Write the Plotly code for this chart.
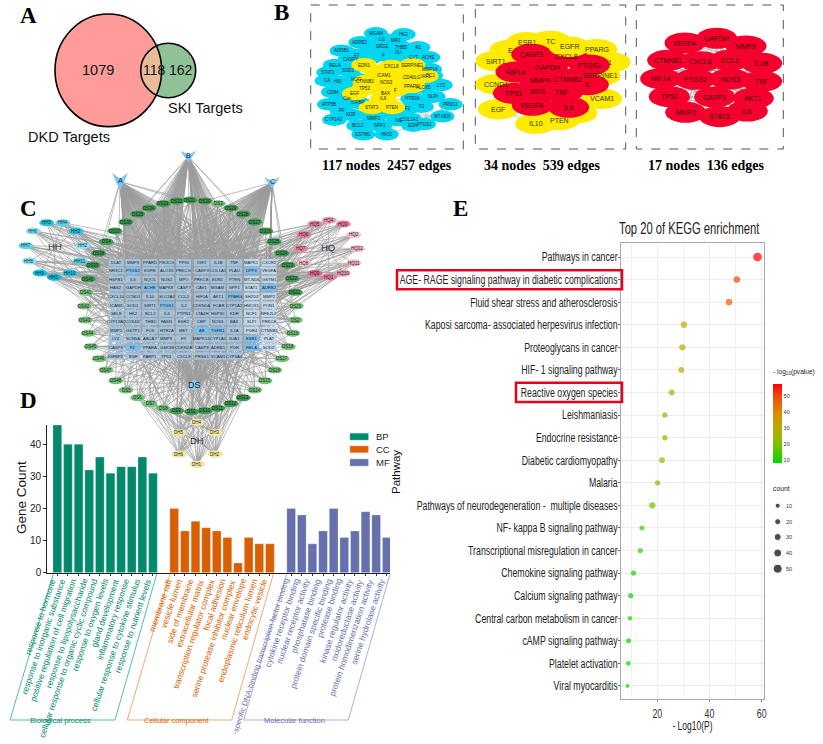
import math
import plotly.graph_objects as go

W, H = 823, 744
SANS = "Liberation Sans, Arial, sans-serif"
SERIF = "Liberation Serif, Times New Roman, serif"

# ---------- D: GO bars ----------
bp_terms = ["response to hormone", "response to inorganic substance", "positive regulation of cell migration",
            "response to lipopolysaccharide", "cellular response to organic cyclic compound",
            "response to oxygen levels", "gland development", "inflammatory response",
            "cellular response to cytokine stimulus", "response to nutrient levels"]
bp_counts = [46, 40, 40, 32, 36, 31, 33, 33, 36, 31]
cc_terms = ["membrane raft", "vesicle lumen", "side of membrane", "extracellular matrix",
            "transcription regulator complex", "focal adhesion", "serine protease inhibitor complex",
            "nuclear envelope", "endoplasmic reticulum lumen", "endocytic vesicle"]
cc_counts = [20, 13, 16, 14, 13, 11, 3, 11, 9, 9]
mf_terms = ["-specific DNA-binding transcription factor binding", "cytokine receptor binding",
            "nuclear receptor activity", "phosphatase binding", "protein domain specific binding",
            "protease binding", "kinase regulator activity", "oxidoreductase activity",
            "protein homodimerization activity", "serine hydrolase activity"]
mf_counts = [20, 18, 9, 13, 20, 11, 13, 19, 18, 11]
bp_slots = list(range(0, 10))
cc_slots = list(range(11, 21))
mf_slots = list(range(22, 32))
go_colors = {"BP": "#00896B", "CC": "#D95F02", "MF": "#6670AD"}
go_edge = {"BP": "#55C0A8", "CC": "#F5A77C", "MF": "#AEB0D8"}

# ---------- E: KEGG dots ----------
kegg_terms = ["Pathways in cancer", "AGE- RAGE signaling pathway in diabetic complications",
              "Fluid shear stress and atherosclerosis", "Kaposi sarcoma- associated herpesvirus infection",
              "Proteoglycans in cancer", "HIF- 1 signaling pathway", "Reactive oxygen species",
              "Leishmaniasis", "Endocrine resistance", "Diabetic cardiomyopathy", "Malaria",
              "Pathways of neurodegeneration -  multiple diseases", "NF- kappa B signaling pathway",
              "Transcriptional misregulation in cancer", "Chemokine signaling pathway",
              "Calcium signaling pathway", "Central carbon metabolism in cancer", "cAMP signaling pathway",
              "Platelet activation", "Viral myocarditis"]
kegg_logp = [58.4, 50.5, 47.5, 30.2, 29.6, 29.2, 25.5, 22.9, 22.9, 21.8, 20.1, 18.1, 14.1, 13.5, 10.9, 9.8, 9.5, 9.0, 8.9, 8.6]
kegg_count = [48, 27, 27, 24, 24, 21, 21, 16, 16, 18, 14, 24, 11, 13, 13, 13, 6, 11, 9, 2]
color_stops = [[0, "#00D800"], [0.24, "#7FC000"], [0.44, "#B8AC00"], [0.64, "#DC8C00"], [0.84, "#F04A0C"], [1, "#FF0000"]]
legend_counts = [10, 20, 30, 40, 50]

# ---------- C: compound-target network ----------
grid_genes = [
    ["DLAT", "MMP3", "PPARD", "PIK3CG", "PPIG", "IGF2", "IL1B", "TNF", "MAPK1", "CXCR2"],
    ["NR3C1", "PTGS2", "EGFR", "ALOX5", "PRKCG", "CASP3", "COL1A1", "PLAU", "DPP4", "VEGFA"],
    ["HSPB1", "IL6", "NQO1", "NOS2", "MPO", "PRKCB", "EDN1", "PTEN", "MT-ND6", "GSTM1"],
    ["HAS2", "GAPDH", "ACHE", "MAPK8", "CASP7", "CAV1", "MGAM", "SPP1", "STAT1", "ADRB2"],
    ["CXCL10", "CCND1", "IL10", "SLC2A4", "CCL2", "HIF1A", "AKT1", "PPARG", "SH2D2", "MMP2"],
    ["ICAM1", "SOD1", "SIRT1", "PTGS1", "IL2", "CDKN1A", "FCAR", "CYP1A2", "HMOX1", "PON1"],
    ["SELE", "HK2", "BCL2", "IL4", "PTPN1", "LTA4H", "HSP90", "KDR", "NCF1", "NFE2L2"],
    ["CYP19A1", "COX4I2", "THBD", "FASN", "ESR2", "CRP", "NOS3", "BAX", "SLPI", "PRKCE"],
    ["MMP1", "GSTP1", "FOS", "HTR2A", "MET", "AR", "TGFB1", "IL1A", "PGR4", "CTNNB1"],
    ["LYZ", "SCN5A", "ABCA7", "MMP9", "F3", "MAPK14", "CYP1A1", "GJA1", "ESR1", "PLAT"],
    ["CASP9", "F2", "PPARA", "GSK3B", "CDKN2A", "CASP8", "ADRB1", "PGR", "RELA", "SOD2"],
    ["IGFBP3", "EGF", "PARP1", "TP53", "CXCL8", "PRSS1", "VCAM1", "CYP3A4"],
]
bright_genes = ["PTGS2", "ACHE", "PTGS1", "F2", "AR", "DPP4", "ADRB2", "PPARG", "ESR1", "RELA", "TGFB1"]
grid_col_x = [116, 133, 150, 166.7, 183.5, 201.7, 218, 234.5, 251.7, 269]
grid_row_y = [262.7, 270.7, 279.3, 287.7, 296.3, 305, 313.3, 321.7, 330.3, 338.7, 347.3, 356]

ds_ring = [("DS31", 190, 200), ("DS30", 205, 201), ("DS3", 218.3, 203.7), ("DS29", 231, 208), ("DS28", 243.3, 214),
           ("DS27", 255, 222), ("DS26", 265.7, 231), ("DS25", 274, 241.7), ("DS24", 281.7, 253.3), ("DS23", 287.7, 265.3),
           ("DS22", 292.3, 278.7), ("DS21", 295.3, 292.3), ("DS20", 296.3, 306), ("DS2", 295.3, 320), ("DS19", 292.7, 333.3),
           ("DS18", 288.3, 346.7), ("DS17", 282, 358.7), ("DS16", 274.7, 370), ("DS15", 265, 380.7), ("DS14", 254.7, 390),
           ("DS13", 243.3, 397.7), ("DS12", 231, 403.7), ("DS11", 217.7, 408.3), ("DS10", 204.7, 410.7), ("DS1", 191.7, 411.7),
           ("DS9", 176.7, 410.7), ("DS8", 163, 408.3), ("DS7", 150, 403.7), ("DS6", 137.7, 397.7), ("DS5", 126, 390),
           ("DS48", 115.7, 380.7), ("DS47", 106, 370), ("DS46", 99.3, 358.7), ("DS45", 91, 346.7), ("DS44", 88.3, 333.3),
           ("DS43", 85.3, 320), ("DS42", 84.3, 306), ("DS41", 85.7, 292.3), ("DS40", 88.3, 279), ("DS39", 93, 265.3),
           ("DS38", 98.7, 253.3), ("DS4", 106.3, 241.7), ("DS37", 115, 231), ("DS36", 126, 222), ("DS35", 137.7, 214),
           ("DS34", 149.3, 208), ("DS33", 163.3, 203.7), ("DS32", 176.7, 201)]
ds_dark = ["DS31", "DS32", "DS33", "DS34", "DS35", "DS36", "DS37", "DS38", "DS39", "DS40", "DS4", "DS30", "DS29", "DS28", "DS27",
           "DS26", "DS25", "DS24", "DS23", "DS22", "DS21", "DS13", "DS12", "DS11", "DS10", "DS1", "DS9"]
hh_nodes = [("HH5", 46.7, 222.7, "#22C4E4"), ("HH4", 62.7, 222.7, "#5CD4EC"), ("HH6", 33.3, 231, "#8CE0F2"), ("HH3", 76, 231, "#22C4E4"),
            ("HH7", 26, 245.7, "#60D6EE"), ("HH2", 82.7, 245.7, "#8CE0F2"), ("HH8", 29.3, 261, "#8CE0F2"), ("HH11", 80, 261, "#5CD4EC"),
            ("HH9", 40, 273, "#0CC4EC"), ("HH10", 70, 273, "#22C4E4"), ("HH1", 54.3, 277.3, "#14B8DC")]
hq_nodes = [("HQ4", 329.3, 220.3, "#F09CB4"), ("HQ5", 315, 224, "#EC84A0"), ("HQ3", 343.3, 224, "#EC7C9C"), ("HQ6", 304, 234.7, "#E87898"),
            ("HQ2", 353.7, 234.7, "#F6C0CE"), ("HQ7", 301, 248.7, "#EC84A0"), ("HQ12", 357.3, 248.7, "#F4B4C6"), ("HQ8", 304.3, 263, "#F6C0CE"),
            ("HQ11", 353.7, 263, "#F4B4C6"), ("HQ9", 315, 273.3, "#E8688C"), ("HQ10", 343.3, 273.3, "#F09CB4"), ("HQ1", 329.3, 277, "#EC7C9C")]
dh_nodes = [("DH4", 197.3, 422.3), ("DH5", 179, 432.7), ("DH3", 215.3, 432.7), ("DH6", 179, 454), ("DH2", 215.3, 454), ("DH1", 197.3, 464.3)]
hub_nodes = [("A", 120, 181.7, 16, 18), ("B", 188.3, 156.7, 16, 12), ("C", 272, 182.7, 16, 11)]

# ---------- B: PPI panels ----------
net1_cyan = [("MGAM", 213, 100), ("HK2", 296, 103), ("ADRB2", 166, 127), ("LG", 232, 118), ("MRJ", 270, 120), ("DRD2", 233, 140), ("THBD", 290, 142),
             ("4I1", 340, 142), ("ADRB1", 110, 152), ("F7", 155, 165), ("F", 235, 165), ("XLI", 280, 158), ("CYT", 325, 172), ("ACHE", 370, 172),
             ("CASP7", 135, 178), ("RELA", 90, 195), ("STAT1", 70, 217), ("SOD1", 130, 212), ("MMP14", 375, 208), ("CA", 65, 242), ("HSI", 100, 245),
             ("NQO", 155, 237), ("DC1", 378, 227), ("LYZ", 407, 255), ("ALOX5", 355, 263), ("CD84", 84, 276), ("Cas", 126, 296), ("HTR3A", 322, 296),
             ("SLPI", 385, 290), ("PRSS1", 437, 313), ("ATP5B", 72, 313), ("IGFBP", 160, 308), ("PF", 110, 332), ("KDR", 137, 344), ("F2", 310, 325),
             ("F2", 350, 320), ("MT-ND6", 412, 349), ("CYP1A2", 88, 359), ("MMP3", 205, 355), ("IVE", 280, 360), ("COL1A1", 315, 357), ("PTGS1", 357, 372),
             ("EDN", 325, 377), ("BCL2", 160, 377), ("SPP1", 225, 377), ("GSTM1", 175, 403), ("HK52", 245, 403), ("BAX", 240, 280),
             ("", 195, 175), ("", 290, 185), ("", 130, 262), ("", 195, 345), ("", 260, 340), ("", 110, 300), ("", 255, 130), ("", 200, 150), ("", 350, 240)]
net1_yellow = [("EDN1", 178, 195), ("CXCL8", 260, 200), ("SERPINE1", 322, 195), ("", 215, 215), ("", 285, 225), ("ICAM1", 238, 225), ("CD40LG", 320, 232),
               ("IAF1", 362, 228), ("CTNNB1", 182, 245), ("NOS3", 245, 247), ("", 280, 250), ("PPARG", 322, 258), ("TP53", 178, 265), ("", 220, 265),
               ("F", 270, 270), ("EGF", 150, 281), ("IL6", 235, 296), ("STAT3", 200, 322), ("PTEN", 262, 322)]
net2_yellow = [("ESR1", 170, 127), ("TC", 240, 123), ("E", 120, 150), ("PPARG", 380, 148), ("SIRT1", 78, 183), ("1", 420, 187),
               ("SERPINE1", 390, 227), ("CCND1", 78, 253), ("VCAM1", 395, 296), ("EGF", 85, 328), ("", 320, 340), ("PTEN", 268, 360), ("IL10", 197, 371)]
net2_red = [("IL", 355, 254), ("CASP3", 185, 163), ("CXCL8", 290, 168), ("GAPDH", 232, 202), ("HIF1A", 138, 216), ("MMP9", 210, 241), ("CTNNB1", 293, 238),
            ("TP53", 130, 280), ("NOS", 205, 274), ("TNF", 277, 277), ("VEGFA", 187, 316), ("IL6", 296, 322), ("PTGS2", 358, 195)]
net2_top = [("EGFR", 298, 140)]
net3_red = [("VEGFA", 435, 129), ("GAPDH", 530, 115), ("MMP9", 618, 138), ("CTNNB1", 383, 181), ("CXCL8", 481, 185), ("CCL2", 569, 181),
            ("IL1B", 665, 190), ("HIF1A", 362, 236), ("PTGS2", 465, 238), ("NOS3", 570, 237), ("TNF", 665, 244), ("TP53", 388, 290),
            ("CASP3", 524, 291), ("AKT1", 640, 295), ("MMP2", 437, 337), ("STAT3", 539, 350), ("IL6", 622, 333)]
net_captions = ["117 nodes  2457 edges", "34 nodes  539 edges", "17 nodes  136 edges"]

shapes, annos = [], []


def dom_x(a, b):
    return [a / W, b / W]


def dom_y(top, bottom):
    return [1 - bottom / H, 1 - top / H]


def txt(x, y, s, size, color="#111", family=SANS, xa="center", ya="middle", angle=0, xref="x3", yref="y3", bold=False):
    if not s:
        return
    annos.append(dict(x=x, y=y, xref=xref, yref=yref, text=f"<b>{s}</b>" if bold else s, showarrow=False,
                      font=dict(size=size, color=color, family=family), xanchor=xa, yanchor=ya,
                      textangle=angle, borderpad=0, borderwidth=0))


def ellipse(x, y, w, h, fill, line="rgba(0,0,0,0)", lw=0):
    shapes.append(dict(type="circle", xref="x3", yref="y3", x0=x - w / 2, x1=x + w / 2, y0=y - h / 2, y1=y + h / 2,
                       fillcolor=fill, line=dict(color=line, width=lw), layer="above"))


def rect(x0, y0, x1, y1, fill="rgba(0,0,0,0)", line="rgba(0,0,0,0)", lw=0, dash="solid"):
    shapes.append(dict(type="rect", xref="x3", yref="y3", x0=x0, x1=x1, y0=y0, y1=y1, fillcolor=fill,
                       line=dict(color=line, width=lw, dash=dash), layer="above"))


def poly(pts, fill="rgba(0,0,0,0)", line="rgba(0,0,0,0)", lw=0):
    path = "M " + " L ".join(f"{a:.2f},{b:.2f}" for a, b in pts) + " Z"
    shapes.append(dict(type="path", xref="x3", yref="y3", path=path, fillcolor=fill, line=dict(color=line, width=lw), layer="above"))


fig = go.Figure()

# Bars
for key, slots, counts in (("BP", bp_slots, bp_counts), ("CC", cc_slots, cc_counts), ("MF", mf_slots, mf_counts)):
    fig.add_trace(go.Bar(x=slots, y=counts, width=0.82, marker=dict(color=go_colors[key], line=dict(color="rgba(255,255,255,.5)", width=0.5)),
                         xaxis="x", yaxis="y", showlegend=False))

# Dots
sizes = [3.9 + 0.1 * c for c in kegg_count]
fig.add_trace(go.Scatter(x=kegg_logp, y=kegg_terms, mode="markers", xaxis="x2", yaxis="y2", showlegend=False, marker=dict(
    size=sizes, color=kegg_logp, cmin=8, cmax=58, colorscale=color_stops, line=dict(width=0),
    colorbar=dict(x=773.3 / W, xanchor="left", xpad=0, ypad=0, y=1 - 423.3 / H, yanchor="middle", lenmode="pixels", len=78.7,
                  thicknessmode="pixels", thickness=9.4, outlinewidth=0, ticks="", tickvals=[10, 20, 30, 40, 50],
                  tickfont=dict(size=5.5, family=SANS, color="#333")))))

# Overlay: edges
ex, ey = [], []


def edge(p, q):
    ex.extend([p[0], q[0], None])
    ey.extend([p[1], q[1], None])


flat = []
for r, row in enumerate(grid_genes):
    for c, g in enumerate(row):
        flat.append((g, grid_col_x[c], grid_row_y[r]))
# The wiring of this dense network cannot be read from the picture; the pattern below only reproduces its look.
for k, (name, hx, hy, _, _) in enumerate(hub_nodes):
    for i, (_, gx, gy) in enumerate(flat):
        if (i + k) % 5 != 0:
            edge((hx, hy), (gx, gy))
    for j, (_, dx, dy) in enumerate(ds_ring):
        if (j + k) % 5 == 0:
            edge((hx, hy), (dx, dy))
for j, (_, dx, dy) in enumerate(ds_ring):
    edge((194, 385), (dx, dy))
    for s in (3, 17, 29, 41, 53, 71, 83, 97):
        _, gx, gy = flat[(j * s + s) % len(flat)]
        edge((dx, dy), (gx, gy))
for i, (_, gx, gy) in enumerate(flat):
    if i % 2 == 1:
        edge((194, 385), (gx, gy))
for n, x, y, _ in hh_nodes:
    edge((54.7, 246.3), (x, y))
    for i in range(0, 118, 13):
        edge((x, y), (flat[(i + int(x)) % 118][1], flat[(i + int(x)) % 118][2]))
for n, x, y, _ in hq_nodes:
    edge((328, 247.7), (x, y))
    for i in range(0, 118, 13):
        edge((x, y), (flat[(i + int(x)) % 118][1], flat[(i + int(x)) % 118][2]))
for n, x, y in dh_nodes:
    edge((197.3, 440.7), (x, y))
    for j in range(20, 29):
        edge((x, y), (ds_ring[j][1], ds_ring[j][2]))
    for i in range(60, 118, 9):
        edge((x, y), (flat[i][1], flat[i][2]))
fig.add_trace(go.Scatter(x=ex, y=ey, mode="lines", line=dict(color="#9C9C9C", width=0.65), xaxis="x3", yaxis="y3",
                         showlegend=False, hoverinfo="skip"))


def zx(origin, v):
    return origin + v / 3


# B edges
bx, by = [], []
all3 = [(zx(540, a), b / 3) for _, a, b in net3_red]
for i in range(len(all3)):
    for j in range(i + 1, len(all3)):
        bx += [all3[i][0], all3[j][0], None]
        by += [all3[i][1], all3[j][1], None]
all2 = [(zx(470, a), b / 3) for _, a, b in net2_red + net2_yellow]
for i in range(len(all2)):
    for j in range(i + 1, len(all2), 2):
        bx += [all2[i][0], all2[j][0], None]
        by += [all2[i][1], all2[j][1], None]
all1 = [(zx(305, a), b / 3) for _, a, b in net1_cyan]
for i in range(len(all1)):
    for j in range(i + 1, len(all1), 3):
        if abs(all1[i][0] - all1[j][0]) + abs(all1[i][1] - all1[j][1]) < 60:
            bx += [all1[i][0], all1[j][0], None]
            by += [all1[i][1], all1[j][1], None]
fig.add_trace(go.Scatter(x=bx, y=by, mode="lines", line=dict(color="#909090", width=0.5), xaxis="x3", yaxis="y3",
                         showlegend=False, hoverinfo="skip"))

# D parallelograms
for key, (tl, bl, br, tr) in {"BP": (53.3, 10, 115, 156.7), "CC": (170, 127.3, 231.7, 273.3), "MF": (286.7, 243.7, 348.3, 390)}.items():
    fig.add_trace(go.Scatter(x=[tl, bl, br, tr], y=[574, 720, 720, 574], mode="lines", line=dict(color=go_edge[key], width=1),
                             xaxis="x3", yaxis="y3", showlegend=False, hoverinfo="skip"))

# Size legend
fig.add_trace(go.Scatter(x=[777.7] * 5, y=[505.7, 521.7, 537, 553, 568.7], mode="markers",
                         marker=dict(size=[3.6 + 0.1 * c + 0.4 for c in legend_counts], color="black"),
                         xaxis="x3", yaxis="y3", showlegend=False, hoverinfo="skip"))
for c, y in zip(legend_counts, [505.7, 521.7, 537, 553, 568.7]):
    txt(786, y, str(c), 5.5, "#333", SANS, xa="left")
txt(773, 488, "count", 6.8, "#222", SANS, xa="left")
txt(773, 372, "- log<sub>10</sub>(pvalue)", 6.6, "#222", SANS, xa="left")

# ---- Panel letters ----
for s, x, y in (("A", 28, 15), ("B", 281.7, 12), ("C", 28.7, 208), ("D", 28.3, 400.7), ("E", 460, 208)):
    txt(x, y, s, 23, "#000", SERIF, bold=True)

# ---- Venn ----
big = (108.3, 70.3, 53.3, 56.3)
small = (168.2, 70.5, 27.5, 27.2)
ellipse(big[0], big[1], big[2] * 2, big[3] * 2, "#FF9C9A")
ellipse(small[0], small[1], small[2] * 2, small[3] * 2, "#90C298")
lens = []
for i in range(61):
    t = math.radians(-62 + i * 124 / 60)
    lens.append((big[0] + big[2] * math.cos(t), big[1] + big[3] * math.sin(t)))
for i in range(61):
    t = math.radians(118 + i * 124 / 60)
    lens.append((small[0] + small[2] * math.cos(t), small[1] + small[3] * math.sin(t)))
lens = [p for p in lens if ((p[0] - big[0]) / big[2]) ** 2 + ((p[1] - big[1]) / big[3]) ** 2 <= 1.02
        and ((p[0] - small[0]) / small[2]) ** 2 + ((p[1] - small[1]) / small[3]) ** 2 <= 1.02]
poly(lens, "#E9BC98")
ellipse(big[0], big[1], big[2] * 2, big[3] * 2, "rgba(0,0,0,0)", "#000", 1.6)
ellipse(small[0], small[1], small[2] * 2, small[3] * 2, "rgba(0,0,0,0)", "#000", 1.6)
txt(98.3, 70, "1079", 14.5)
txt(154.3, 70, "118", 14)
txt(181.3, 70, "162", 14)
txt(168, 107.5, "SKI Targets", 14.5, xa="left")
txt(28, 136.5, "DKD Targets", 14.5, xa="left")

# ---- B boxes ----
for x0, x1 in ((310.7, 463.3), (475.3, 625.7), (636.3, 783.3)):
    rect(x0, 5, x1, 149, "rgba(0,0,0,0)", "#555", 1, "dash")
for cap, cx in zip(net_captions, (387, 542, 706)):
    txt(cx, 165, cap, 14, "#000", SERIF, bold=True)
for n, a, b in net1_cyan:
    ellipse(zx(305, a), b / 3, 24, 12.5, "#00D5F2")
for n, a, b in net1_cyan:
    txt(zx(305, a), b / 3, n, 4.5, "#123")
for n, a, b in net1_yellow:
    ellipse(zx(305, a), b / 3, 26, 14, "#FFEB00")
for n, a, b in net1_yellow:
    txt(zx(305, a), b / 3, n, 4.5, "#221")
for n, a, b in net2_yellow:
    ellipse(zx(470, a), b / 3, 41, 20.5, "#FFEB00")
    txt(zx(470, a), b / 3, n, 7, "#330")
for n, a, b in net2_red:
    ellipse(zx(470, a), b / 3, 41, 21, "#F5002E")
    txt(zx(470, a), b / 3, n, 7, "#400")
for n, a, b in net2_top:
    ellipse(zx(470, a), b / 3, 41, 20.5, "#FFEB00")
    txt(zx(470, a), b / 3, n, 7, "#330")
for n, a, b in net3_red:
    ellipse(zx(540, a), b / 3, 41, 21, "#F5002E")
    txt(zx(540, a), b / 3, n, 7, "#400")

# ---- C nodes ----
for _, x, y, w, h in hub_nodes:
    poly([(x - w / 2, y - h / 2), (x, y - h / 6), (x + w / 2, y - h / 2), (x, y + h / 2)], "#7CC6F0")
for n, x, y, w, h in hub_nodes:
    txt(x, y - 1, n, 7, "#123")
poly([(194, 379), (200, 385), (194, 391), (188, 385)], "#8CCBEE")
txt(194, 385, "DS", 9, "#123")
txt(54.7, 246.3, "HH", 9.5, "#234")
txt(328, 247.7, "HQ", 9.5, "#234")
txt(197.3, 440.7, "DH", 9.5, "#234")
for n, x, y in ds_ring:
    ellipse(x, y, 15, 7, "#3F9A4F" if n in ds_dark else "#78C07A")
    txt(x, y, n, 4.5, "#122")
for n, x, y, c in hh_nodes + hq_nodes:
    ellipse(x, y, 15, 7, c)
    txt(x, y, n, 4.5, "#122")
for n, x, y in dh_nodes:
    ellipse(x, y, 15, 7, "#F3E9A4", "#E0D68C", 0.4)
    txt(x, y, n, 4.5, "#222")
for g, x, y in flat:
    fill = "#7CBDEC" if g in bright_genes else ("#A3C2DC" if x < 240 else "#BED7EA")
    rect(x - 7.6, y - 3.6, x + 7.6, y + 3.6, fill)
    txt(x, y, g, 4.2, "#1A2530")

# ---- D text ----
for terms, slots, key in ((bp_terms, bp_slots, "BP"), (cc_terms, cc_slots, "CC"), (mf_terms, mf_slots, "MF")):
    for t, s in zip(terms, slots):
        size = 7.6 if len(t) > 45 else 8.4
        txt(s - 0.02, 577.5, t, size, go_colors[key], SANS, xa="right", ya="top", angle=-71.5, xref="x")
for s, x, key in (("Biological process", 60, "BP"), ("Cellular component", 177.3, "CC"), ("Molecular function", 294, "MF")):
    txt(x, 720, s, 7.5, go_colors[key])
for key, y0, y1 in (("BP", 433.3, 440), ("CC", 446, 452.7), ("MF", 459, 466)):
    rect(350, y0, 368.3, y1, go_colors[key], go_edge[key], 0.5)
    txt(375.7, (y0 + y1) / 2, key, 9.5, "#222", xa="left")
txt(396, 472, "Pathway", 11.5, "#111", angle=-90)
txt(21, 498, "Gene Count", 13.5, "#111", angle=-90)

# ---- E text ----
txt(689, 228, "Top 20 of KEGG enrichment", 16.5, "#222", SANS)
txt(692.7, 726, "- Log10(P)", 12.5, "#222", SANS)
rect(397, 270.3, 622, 289.3, "rgba(0,0,0,0)", "#E8001C", 2.5)
rect(516, 382.7, 622, 402, "rgba(0,0,0,0)", "#E8001C", 2.5)

fig.update_layout(
    width=W, height=H, margin=dict(l=0, r=0, t=0, b=0, autoexpand=False), paper_bgcolor="white", plot_bgcolor="rgba(0,0,0,0)",
    barmode="overlay", showlegend=False, shapes=shapes, annotations=annos,
    xaxis=dict(domain=dom_x(46.7, 390), range=[-1.0, 31.3], tickvals=bp_slots + cc_slots + mf_slots, showticklabels=False, ticks="outside",
               ticklen=2.5, tickcolor="#333", showline=True, linecolor="#222", linewidth=1, showgrid=False, zeroline=False, anchor="y"),
    yaxis=dict(domain=dom_y(425, 572.7), range=[0, 46], tickvals=[0, 10, 20, 30, 40], ticks="outside", ticklen=2.5, tickcolor="#333",
               showline=True, linecolor="#222", linewidth=1, showgrid=False, zeroline=False, anchor="x",
               tickfont=dict(size=10, family=SANS, color="#222")),
    xaxis2=dict(domain=dom_x(621.3, 764), range=[6.2, 60.9], tickvals=[20, 40, 60], ticks="outside", ticklen=2, tickcolor="#888",
                gridcolor="#EDEDED", gridwidth=1.4, zeroline=False, showline=True, mirror=True, linecolor="#AAAAAA", linewidth=1.4,
                anchor="y2", tickfont=dict(size=13, family=SANS, color="#333"),
                minor=dict(tickvals=[10, 30, 50], showgrid=True, gridcolor="#F0F0F0", gridwidth=1, ticks="")),
    yaxis2=dict(domain=dom_y(243.3, 699), type="category", categoryorder="array", categoryarray=kegg_terms, range=[19.576, -0.607], ticks="outside",
                ticklen=2, tickcolor="#666", gridcolor="#EDEDED", gridwidth=1.4, zeroline=False, showline=True, mirror=True, linecolor="#AAAAAA",
                linewidth=1.4, anchor="x2", tickfont=dict(size=12.5, family=SANS, color="#222"), automargin=False, ticklabelstandoff=-2),
    xaxis3=dict(domain=[0, 1], range=[0, W], visible=False, anchor="y3"),
    yaxis3=dict(domain=[0, 1], range=[H, 0], visible=False, anchor="x3"),
)

# No narrow font is installed, so the reference's condensed panel-E text is squeezed horizontally on the real text elements.
post = """
document.body.style.margin = '0';
document.body.style.overflow = 'hidden';
function squeeze(el, k) {
  var w = el.getComputedTextLength();
  el.setAttribute('textLength', (w * k).toFixed(1));
  el.setAttribute('lengthAdjust', 'spacingAndGlyphs');
}
document.querySelectorAll('g.y2tick text').forEach(function (el) { squeeze(el, 0.70); });
document.querySelectorAll('g.x2tick text').forEach(function (el) { squeeze(el, 0.68); });
document.querySelectorAll('text.annotation-text').forEach(function (el) {
  var t = el.textContent;
  if (t === 'Top 20 of KEGG enrichment' || t === '- Log10(P)') squeeze(el, 0.68);
});
"""
fig.write_html("out.html", post_script=post, config={"displayModeBar": False})
